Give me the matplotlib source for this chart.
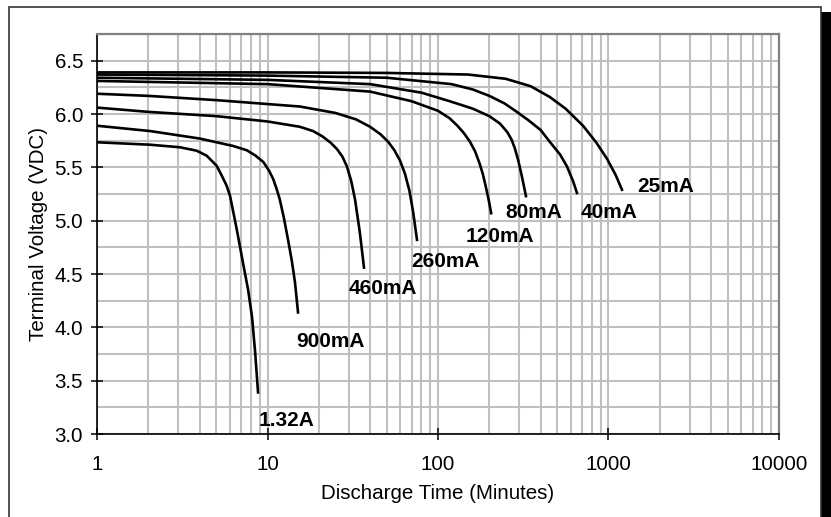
import numpy as np
import matplotlib.pyplot as plt
from matplotlib.patches import Rectangle
from matplotlib.ticker import LogLocator, MultipleLocator, FixedLocator

plt.rcParams['font.family'] = ['Liberation Sans', 'DejaVu Sans']

# discharge curves (minutes, volts)
t_25 = [1, 10, 50, 150, 250, 350, 452, 560, 709, 850, 980, 1100, 1200]
v_25 = [6.39, 6.39, 6.385, 6.37, 6.33, 6.26, 6.16, 6.05, 5.89, 5.73, 5.58, 5.43, 5.29]
t_40 = [1, 10, 50, 120, 160, 200, 245, 290, 340, 400, 452, 520, 570, 620, 653]
v_40 = [6.37, 6.36, 6.34, 6.28, 6.23, 6.17, 6.10, 6.02, 5.94, 5.85, 5.74, 5.62, 5.51, 5.37, 5.26]
t_80 = [1, 10, 40, 80, 117, 160, 200, 231, 255, 270, 282, 295, 310, 328]
v_80 = [6.34, 6.32, 6.28, 6.20, 6.12, 6.05, 5.98, 5.91, 5.83, 5.76, 5.68, 5.57, 5.42, 5.23]
t_120 = [1, 10, 40, 70, 100, 117, 130, 142, 154, 165, 175, 183, 190, 198, 205]
v_120 = [6.31, 6.28, 6.21, 6.12, 6.03, 5.96, 5.89, 5.82, 5.74, 5.65, 5.54, 5.44, 5.33, 5.20, 5.07]
t_260 = [1, 2, 5, 15.5, 25, 33, 40, 46, 51, 55.5, 60, 64, 68, 71.5, 75.3]
v_260 = [6.19, 6.17, 6.13, 6.07, 6.01, 5.95, 5.88, 5.81, 5.74, 5.66, 5.56, 5.44, 5.28, 5.08, 4.82]
t_460 = [1, 2, 5, 10, 15.5, 18.5, 21, 23.5, 25.6, 27.5, 29.2, 31, 32.6, 34.8, 36.8]
v_460 = [6.06, 6.02, 5.98, 5.93, 5.88, 5.84, 5.79, 5.73, 5.67, 5.60, 5.51, 5.37, 5.20, 4.89, 4.56]
t_900 = [1, 2.05, 4.0, 6.3, 7.56, 8.5, 9.45, 10.2, 10.8, 11.3, 11.8, 12.5, 13.2, 13.9, 14.5, 15.1]
v_900 = [5.89, 5.84, 5.77, 5.70, 5.66, 5.61, 5.55, 5.47, 5.39, 5.30, 5.20, 5.02, 4.82, 4.62, 4.42, 4.14]
t_132 = [1, 2.05, 3.07, 3.84, 4.4, 5.03, 5.4, 5.75, 6.03, 6.6, 7.19, 7.7, 8.11, 8.45, 8.8]
v_132 = [5.735, 5.712, 5.688, 5.656, 5.609, 5.515, 5.42, 5.33, 5.232, 4.92, 4.60, 4.35, 4.10, 3.78, 3.39]

curves = [(t_25, v_25), (t_40, v_40), (t_80, v_80), (t_120, v_120),
          (t_260, v_260), (t_460, v_460), (t_900, v_900), (t_132, v_132)]
names = ['25mA', '40mA', '80mA', '120mA', '260mA', '460mA', '900mA', '1.32A']
label_x = [1469, 690, 250, 146, 69.5, 30.1, 14.7, 8.9]
label_y = [5.324, 5.079, 5.079, 4.853, 4.618, 4.364, 3.865, 3.13]

x_ticks = [1, 10, 100, 1000, 10000]
x_ticklabels = ['1', '10', '100', '1000', '10000']

fig = plt.figure(figsize=(8.31, 5.17), dpi=100)

# outer frame with a drop shadow
fig.patches.append(Rectangle((821 / 831, 0), 10 / 831, 505 / 517, transform=fig.transFigure,
                             facecolor='black', edgecolor='none', zorder=0))
fig.patches.append(Rectangle((8.5 / 831, -0.05), 812.5 / 831, 1.05 - 7 / 517, transform=fig.transFigure,
                             facecolor='white', edgecolor='#333333', linewidth=1.2, zorder=1))

ax = fig.add_axes([97 / 831, 1 - 434 / 517, 682 / 831, 400 / 517])
ax.set_zorder(2)

for (t, v) in curves:
    ax.plot(t, v, color='black', linewidth=1.9, solid_joinstyle='round', zorder=3)

for name, lx, ly in zip(names, label_x, label_y):
    ax.text(lx, ly, name, fontsize=15, fontweight='bold', ha='left', va='center', zorder=4)

ax.set_xscale('log')
ax.set_xlim(1, 10000)
ax.set_ylim(3.0, 6.75)
ax.xaxis.set_major_locator(FixedLocator(x_ticks))
ax.set_xticklabels(x_ticklabels)
ax.xaxis.set_minor_locator(LogLocator(base=10, subs=np.arange(2, 10)))
ax.xaxis.set_minor_formatter(plt.NullFormatter())
ax.yaxis.set_major_locator(MultipleLocator(0.5))
ax.yaxis.set_minor_locator(MultipleLocator(0.25))
ax.yaxis.set_major_formatter(plt.FormatStrFormatter('%.1f'))

ax.grid(True, which='both', color='#c0c0c0', linewidth=1.5, zorder=1)
ax.set_axisbelow(True)
ax.tick_params(which='major', direction='inout', length=8, width=1.1, labelsize=14.8, pad=6)
ax.tick_params(which='minor', length=0)
ax.tick_params(axis='x', which='major', pad=11)

for s in ['top', 'right']:
    ax.spines[s].set_color('#808080')
    ax.spines[s].set_linewidth(1.6)
for s in ['left', 'bottom']:
    ax.spines[s].set_color('black')
    ax.spines[s].set_linewidth(1.2)

ax.set_xlabel('Discharge Time (Minutes)', fontsize=14.8, labelpad=7)
ax.set_ylabel('Terminal Voltage (VDC)', fontsize=14.8, labelpad=5)

fig.savefig('out.png', dpi=100)
